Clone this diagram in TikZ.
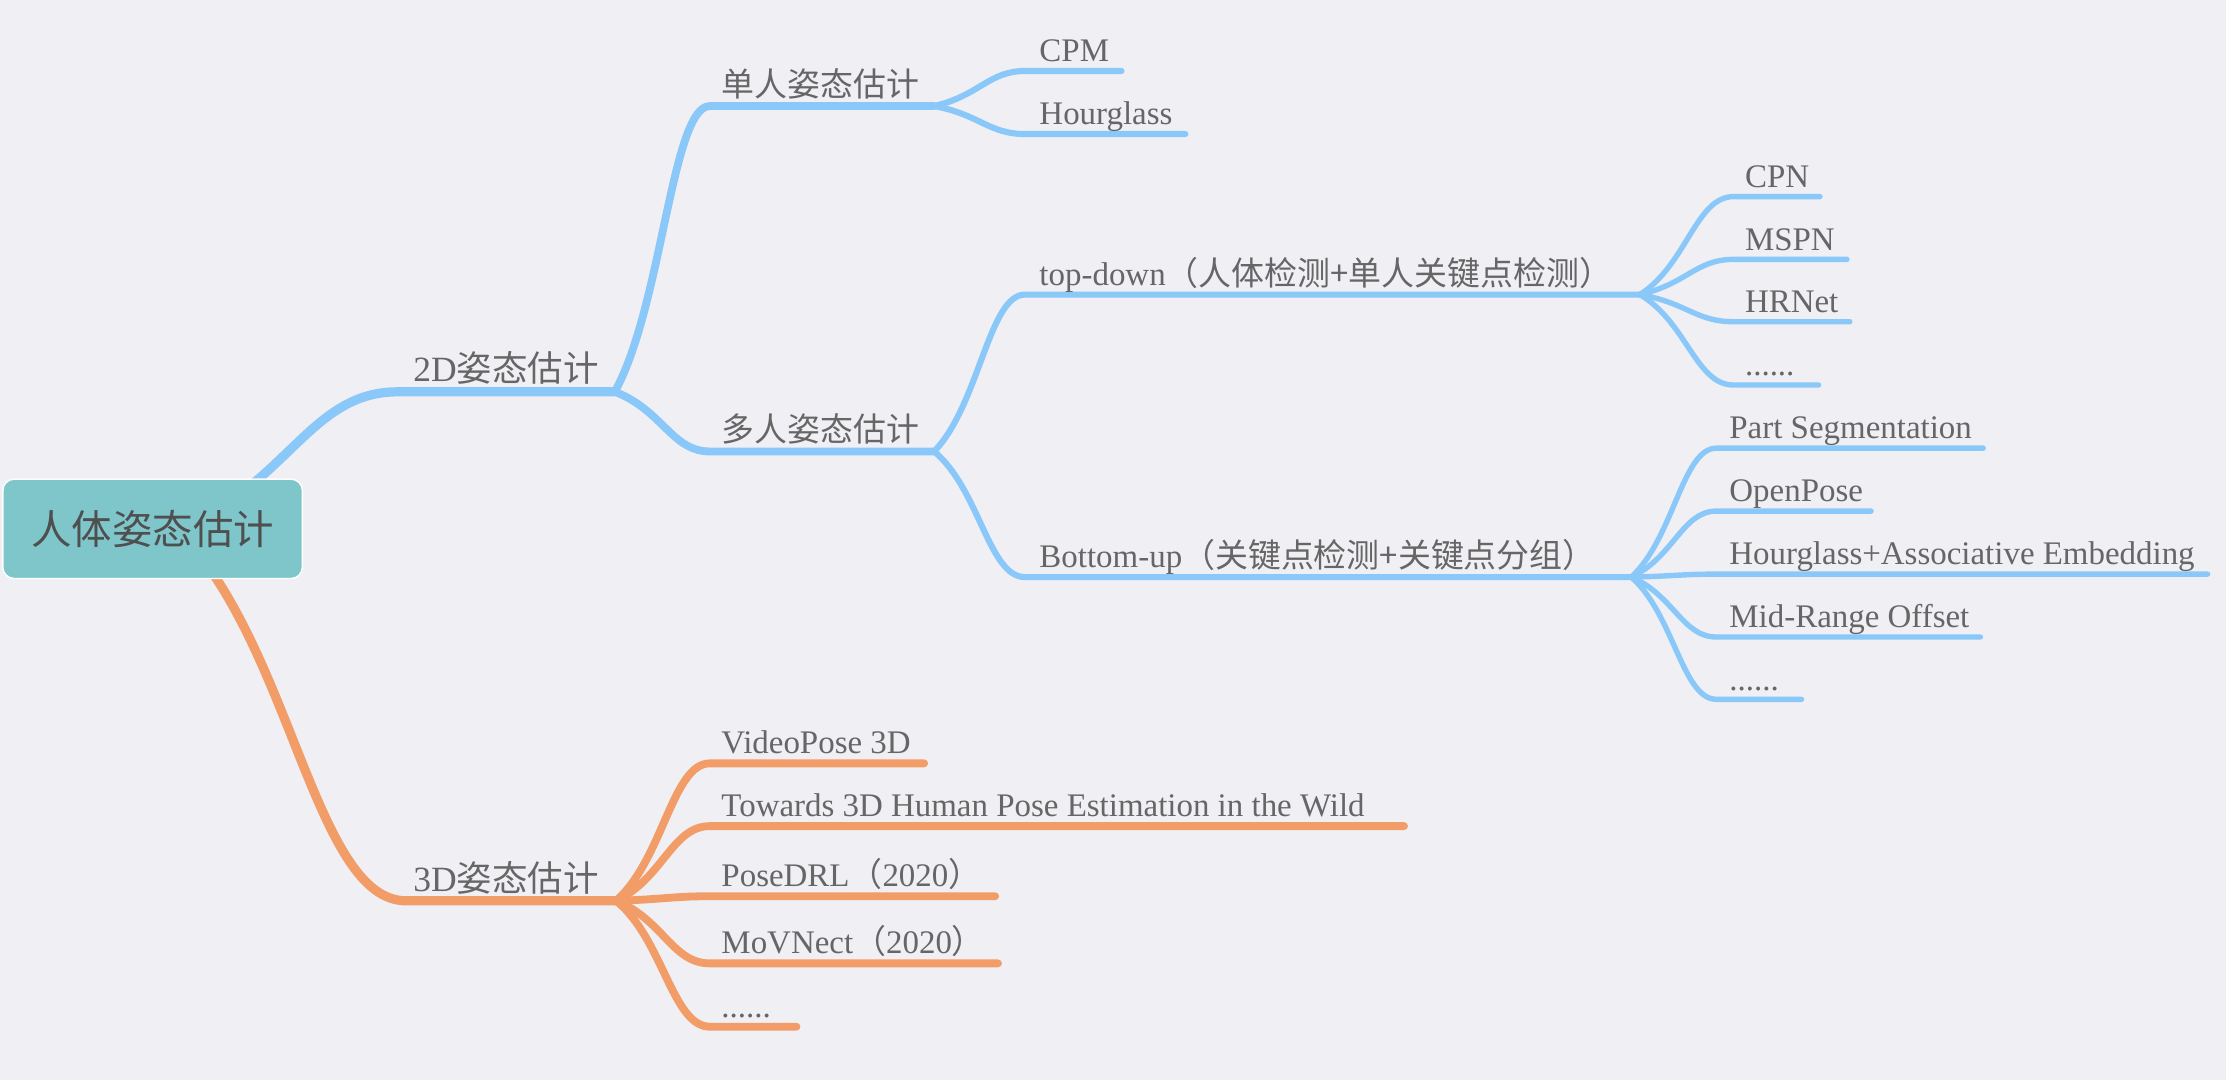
\documentclass[tikz,border=0pt]{standalone}
\usepackage{fontspec}
\setmainfont{Liberation Serif}
\newfontfamily\cjk{Noto Sans CJK SC}
\usetikzlibrary{calc}
\definecolor{bgc}{HTML}{EFEFF4}
\definecolor{blueb}{HTML}{89C8F8}
\definecolor{orangeb}{HTML}{F29D68}
\definecolor{rootfill}{HTML}{7EC6CA}
\definecolor{txt}{HTML}{666666}
\definecolor{roottxt}{HTML}{4F4F4F}
\tikzset{
  branch/.style={to path={let \p1=(\tikztostart),\p2=(\tikztotarget) in
     .. controls ({\x1+0.5*(\x2-\x1)},{\y1+0.3*(\y2-\y1)}) and ({\x2-0.4*(\x2-\x1)},{\y2}) .. (\tikztotarget)}},
  conn/.style={line cap=round, line join=round},
  lvA/.style={conn, line width=6.5pt},
  lvB/.style={conn, line width=5.5pt},
  lvC/.style={conn, line width=4.3pt},
  lvD/.style={conn, line width=3.8pt},
  lbl/.style={anchor=base west, inner sep=0pt, text=txt, font=\fontsize{23.2}{26}\selectfont},
  lblA/.style={lbl, font=\fontsize{25}{28}\selectfont},
  rootbox/.style={draw=white, line width=1pt, fill=rootfill, rounded corners=8pt, inner sep=0pt,
     minimum width=211pt, minimum height=70pt, text=roottxt, font=\fontsize{28.5}{32}\selectfont\cjk},
}
\begin{document}
\begin{tikzpicture}[x=1pt,y=-1pt]
\fill[bgc] (0,0) rectangle (1568,761);
\useasboundingbox (0,0) rectangle (1568,761);

% ---------- coordinates ----------
\coordinate (rootc) at (107.5,372.5);
\coordinate (root-o) at (124,372.5);
% level 1
\coordinate (d2-s) at (280,276);   \coordinate (d2-e) at (433,276);
\coordinate (d3-s) at (286,634.5); \coordinate (d3-e) at (434,634.5);
% level 2 (2D)
\coordinate (single-s) at (500,74.7); \coordinate (single-e) at (658,74.7);
\coordinate (multi-s) at (500,318);   \coordinate (multi-e) at (658,318);
% level 3 (single)
\coordinate (cpm-s) at (722,50);  \coordinate (cpm-e) at (790,50);
\coordinate (hg-s) at (722,94.4); \coordinate (hg-e) at (835,94.4);
% level 3 (multi)
\coordinate (td-s) at (722,207.5); \coordinate (td-e) at (1155,207.5);
\coordinate (bu-s) at (722,406.5); \coordinate (bu-e) at (1149,406.5);
% level 4 (top-down)
\coordinate (cpn-s) at (1221,138.5);    \coordinate (cpn-e) at (1282,138.5);
\coordinate (mspn-s) at (1221,182.7);   \coordinate (mspn-e) at (1301,182.7);
\coordinate (hrnet-s) at (1221,226.6);  \coordinate (hrnet-e) at (1303,226.6);
\coordinate (tdmore-s) at (1221,271.2); \coordinate (tdmore-e) at (1281,271.2);
% level 4 (bottom-up)
\coordinate (ps-s) at (1209,315.7);     \coordinate (ps-e) at (1397,315.7);
\coordinate (op-s) at (1209,360);       \coordinate (op-e) at (1318,360);
\coordinate (hae-s) at (1209,404.4);    \coordinate (hae-e) at (1555,404.4);
\coordinate (mro-s) at (1209,448.7);    \coordinate (mro-e) at (1395,448.7);
\coordinate (bumore-s) at (1209,492.6); \coordinate (bumore-e) at (1269,492.6);
% level 2 (3D)
\coordinate (vp-s) at (500,537.7);     \coordinate (vp-e) at (651,537.7);
\coordinate (tw-s) at (500,581.9);     \coordinate (tw-e) at (989,581.9);
\coordinate (pdrl-s) at (500,631.3);   \coordinate (pdrl-e) at (701,631.3);
\coordinate (mov-s) at (500,678.6);    \coordinate (mov-e) at (703,678.6);
\coordinate (d3more-s) at (500,723.2); \coordinate (d3more-e) at (561,723.2);

% ---------- connectors ----------
\begin{scope}[draw=blueb]
\draw[lvA] (root-o) to[branch] (d2-s) -- (d2-e);
\draw[lvB] (d2-e) to[branch] (single-s) -- (single-e);
\draw[lvB] (d2-e) to[branch] (multi-s) -- (multi-e);
\draw[lvC] (single-e) to[branch] (cpm-s) -- (cpm-e);
\draw[lvC] (single-e) to[branch] (hg-s) -- (hg-e);
\draw[lvC] (multi-e) to[branch] (td-s) -- (td-e);
\draw[lvC] (multi-e) to[branch] (bu-s) -- (bu-e);
\draw[lvD] (td-e) to[branch] (cpn-s) -- (cpn-e);
\draw[lvD] (td-e) to[branch] (mspn-s) -- (mspn-e);
\draw[lvD] (td-e) to[branch] (hrnet-s) -- (hrnet-e);
\draw[lvD] (td-e) to[branch] (tdmore-s) -- (tdmore-e);
\draw[lvD] (bu-e) to[branch] (ps-s) -- (ps-e);
\draw[lvD] (bu-e) to[branch] (op-s) -- (op-e);
\draw[lvD] (bu-e) to[branch] (hae-s) -- (hae-e);
\draw[lvD] (bu-e) to[branch] (mro-s) -- (mro-e);
\draw[lvD] (bu-e) to[branch] (bumore-s) -- (bumore-e);
\end{scope}
\begin{scope}[draw=orangeb]
\draw[lvA] (root-o) to[branch] (d3-s) -- (d3-e);
\draw[lvB] (d3-e) to[branch] (vp-s) -- (vp-e);
\draw[lvB] (d3-e) to[branch] (tw-s) -- (tw-e);
\draw[lvB] (d3-e) to[branch] (pdrl-s) -- (pdrl-e);
\draw[lvB] (d3-e) to[branch] (mov-s) -- (mov-e);
\draw[lvB] (d3-e) to[branch] (d3more-s) -- (d3more-e);
\end{scope}

% ---------- root ----------
\node[rootbox] (root) at (rootc) {人体姿态估计};

% ---------- labels ----------
\node[lblA] (d2) at (291,269) {2D{\cjk 姿态估计}};
\node[lblA] (d3) at (291,627.7) {3D{\cjk 姿态估计}};
\node[lbl] (single) at (508,68) {\cjk 单人姿态估计};
\node[lbl] (multi) at (508,311.3) {\cjk 多人姿态估计};
\node[lbl] (cpm) at (732,43.4) {CPM};
\node[lbl] (hg) at (732,87.8) {Hourglass};
\node[lbl] (td) at (732,200.8) {top-down{\cjk （人体检测+单人关键点检测）}};
\node[lbl] (bu) at (732,399.8) {Bottom-up{\cjk （关键点检测+关键点分组）}};
\node[lbl] (cpn) at (1229,132) {CPN};
\node[lbl] (mspn) at (1229,176.2) {MSPN};
\node[lbl] (hrnet) at (1229,220.1) {HRNet};
\node[lbl] (tdmore) at (1229,264.7) {......};
\node[lbl] (ps) at (1218,309.2) {Part Segmentation};
\node[lbl] (op) at (1218,353.5) {OpenPose};
\node[lbl] (hae) at (1218,397.9) {Hourglass+Associative Embedding};
\node[lbl] (mro) at (1218,442.2) {Mid-Range Offset};
\node[lbl] (bumore) at (1218,486.1) {......};
\node[lbl] (vp) at (508,530.9) {VideoPose 3D};
\node[lbl] (tw) at (508,575.1) {Towards 3D Human Pose Estimation in the Wild};
\node[lbl] (pdrl) at (508,624.5) {PoseDRL{\cjk （}2020{\cjk ）}};
\node[lbl] (mov) at (508,671.8) {MoVNect{\cjk （}2020{\cjk ）}};
\node[lbl] (d3more) at (508,716.4) {......};
\end{tikzpicture}
\end{document}
